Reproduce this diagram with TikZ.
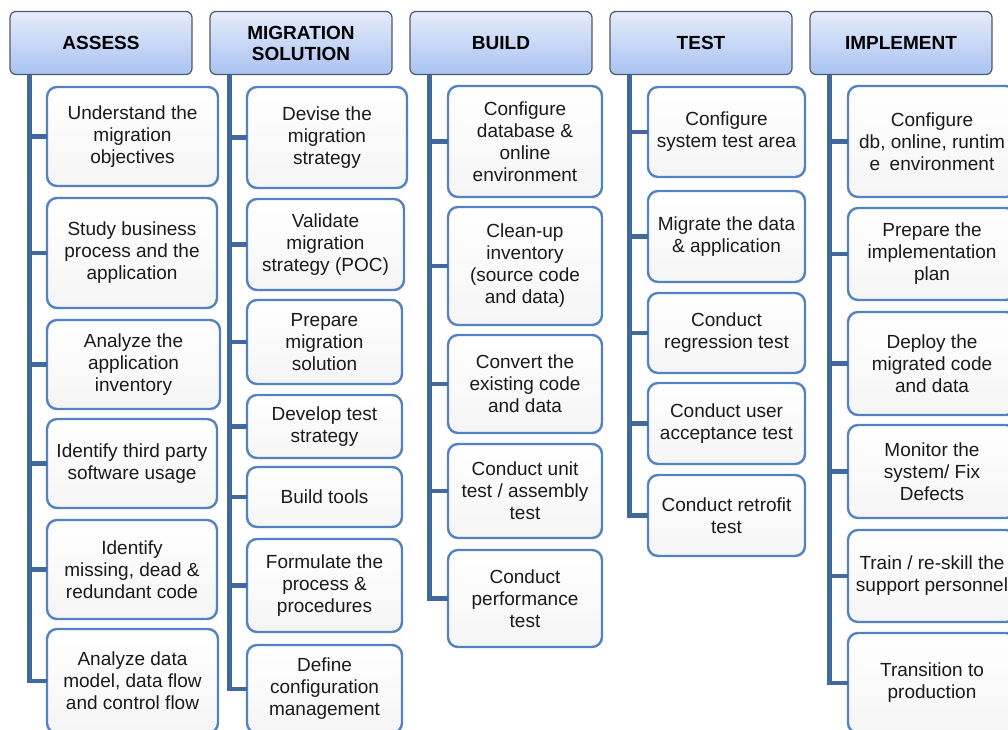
\documentclass[tikz,border=0pt]{standalone}
\usepackage{fontspec}
\setmainfont{Liberation Sans}
\definecolor{spinec}{HTML}{41699E}
\definecolor{boxborder}{HTML}{5283C0}
\definecolor{hdrtop}{HTML}{E6EDFB}
\definecolor{hdrbot}{HTML}{A9C2F1}
\definecolor{hdrborder}{HTML}{505A68}
\definecolor{txt}{HTML}{1A1A1A}
\tikzset{
  hdr/.style={draw=hdrborder, line width=1.2pt, rounded corners=6pt, top color=hdrtop, bottom color=hdrbot,
    inner sep=0pt, outer sep=0pt, align=center, text=black, font=\fontsize{19}{21}\selectfont\bfseries},
  chld/.style={draw=boxborder, line width=2.4pt, rounded corners=10pt, top color=white, bottom color=black!4,
    inner sep=0pt, outer sep=0pt, align=center, text=txt, font=\fontsize{19}{22}\selectfont},
  spine/.style={draw=spinec, line width=4.8pt}
}
\newcommand\chbox[6]{\node[chld, minimum width={#4-#2}, minimum height={#5-#3}] (#1) at ({(#2+#4)/2},{(#3+#5)/2}) {#6};}
\newcommand\hdbox[4]{\node[hdr, minimum width=182, minimum height=63] (#1) at ({#2+91},43) {#3};\coordinate (#4) at ({#2+19.5},75);}
\begin{document}
\begin{tikzpicture}[x=1pt,y=-1pt]
\useasboundingbox (0,0) rectangle (1008,729);
\clip (0,0) rectangle (1008,729);
\fill[white] (0,0) rectangle (1008,729);
% headers
\hdbox{hA}{10}{ASSESS}{sA}
\hdbox{hM}{210}{MIGRATION\\SOLUTION}{sM}
\hdbox{hB}{410}{BUILD}{sB}
\hdbox{hT}{610}{TEST}{sT}
\hdbox{hI}{810}{IMPLEMENT}{sI}
% assess
\chbox{a1}{47}{87}{218}{186}{Understand the\\migration\\objectives}
\chbox{a2}{47}{198}{217}{308}{Study business\\process and the\\application}
\chbox{a3}{47}{320}{220}{409}{Analyze the\\application\\inventory}
\chbox{a4}{47}{419}{217}{508}{Identify third party\\software usage}
\chbox{a5}{47}{520}{217}{619}{Identify\\missing, dead \&\\redundant code}
\chbox{a6}{47}{629}{218}{733}{Analyze data\\model, data flow\\and control flow}
% migration solution
\chbox{m1}{247}{87}{407}{188}{Devise the\\migration\\strategy}
\chbox{m2}{247}{199}{404}{290}{Validate\\migration\\strategy (POC)}
\chbox{m3}{247}{300}{402}{384}{Prepare\\migration\\solution}
\chbox{m4}{247}{395}{402}{458}{Develop test\\strategy}
\chbox{m5}{247}{467}{402}{527}{Build tools}
\chbox{m6}{247}{539}{402}{632}{Formulate the\\process \&\\procedures}
\chbox{m7}{247}{645}{402}{733}{Define\\configuration\\management}
% build
\chbox{b1}{448}{86}{602}{197}{Configure\\database \&\\online\\environment}
\chbox{b2}{448}{207}{602}{325}{Clean-up\\inventory\\(source code\\and data)}
\chbox{b3}{448}{335}{602}{433}{Convert the\\existing code\\and data}
\chbox{b4}{448}{444}{602}{538}{Conduct unit\\test / assembly\\test}
\chbox{b5}{448}{550}{602}{647}{Conduct\\performance\\test}
% test
\chbox{t1}{648}{87}{805}{177}{Configure\\system test area}
\chbox{t2}{648}{191}{805}{282}{Migrate the data\\\& application}
\chbox{t3}{648}{293}{805}{373}{Conduct\\regression test}
\chbox{t4}{648}{383}{805}{464}{Conduct user\\acceptance test}
\chbox{t5}{648}{475}{805}{556}{Conduct retrofit\\test}
% implement
\chbox{i1}{848}{86}{1016}{197}{Configure\\db, online, runtim\\e\enspace environment}
\chbox{i2}{848}{208}{1016}{300}{Prepare the\\implementation\\plan}
\chbox{i3}{848}{312}{1016}{415}{Deploy the\\migrated code\\and data}
\chbox{i4}{848}{425}{1016}{518}{Monitor the\\system/ Fix\\Defects}
\chbox{i5}{848}{530}{1016}{622}{Train / re-skill the\\support personnel}
\chbox{i6}{848}{633}{1016}{733}{Transition to\\production}
% connectors
\foreach \s/\last/\list in {sA/a6/{a1,a2,a3,a4,a5}, sM/m7/{m1,m2,m3,m4,m5,m6}, sB/b5/{b1,b2,b3,b4}, sT/t5/{t1,t2,t3,t4}, sI/i6/{i1,i2,i3,i4,i5}}{
  \draw[spine] (\s) |- (\last.west);
  \foreach \c in \list { \draw[spine] (\s |- \c.west) -- (\c.west); }
}
\end{tikzpicture}
\end{document}
